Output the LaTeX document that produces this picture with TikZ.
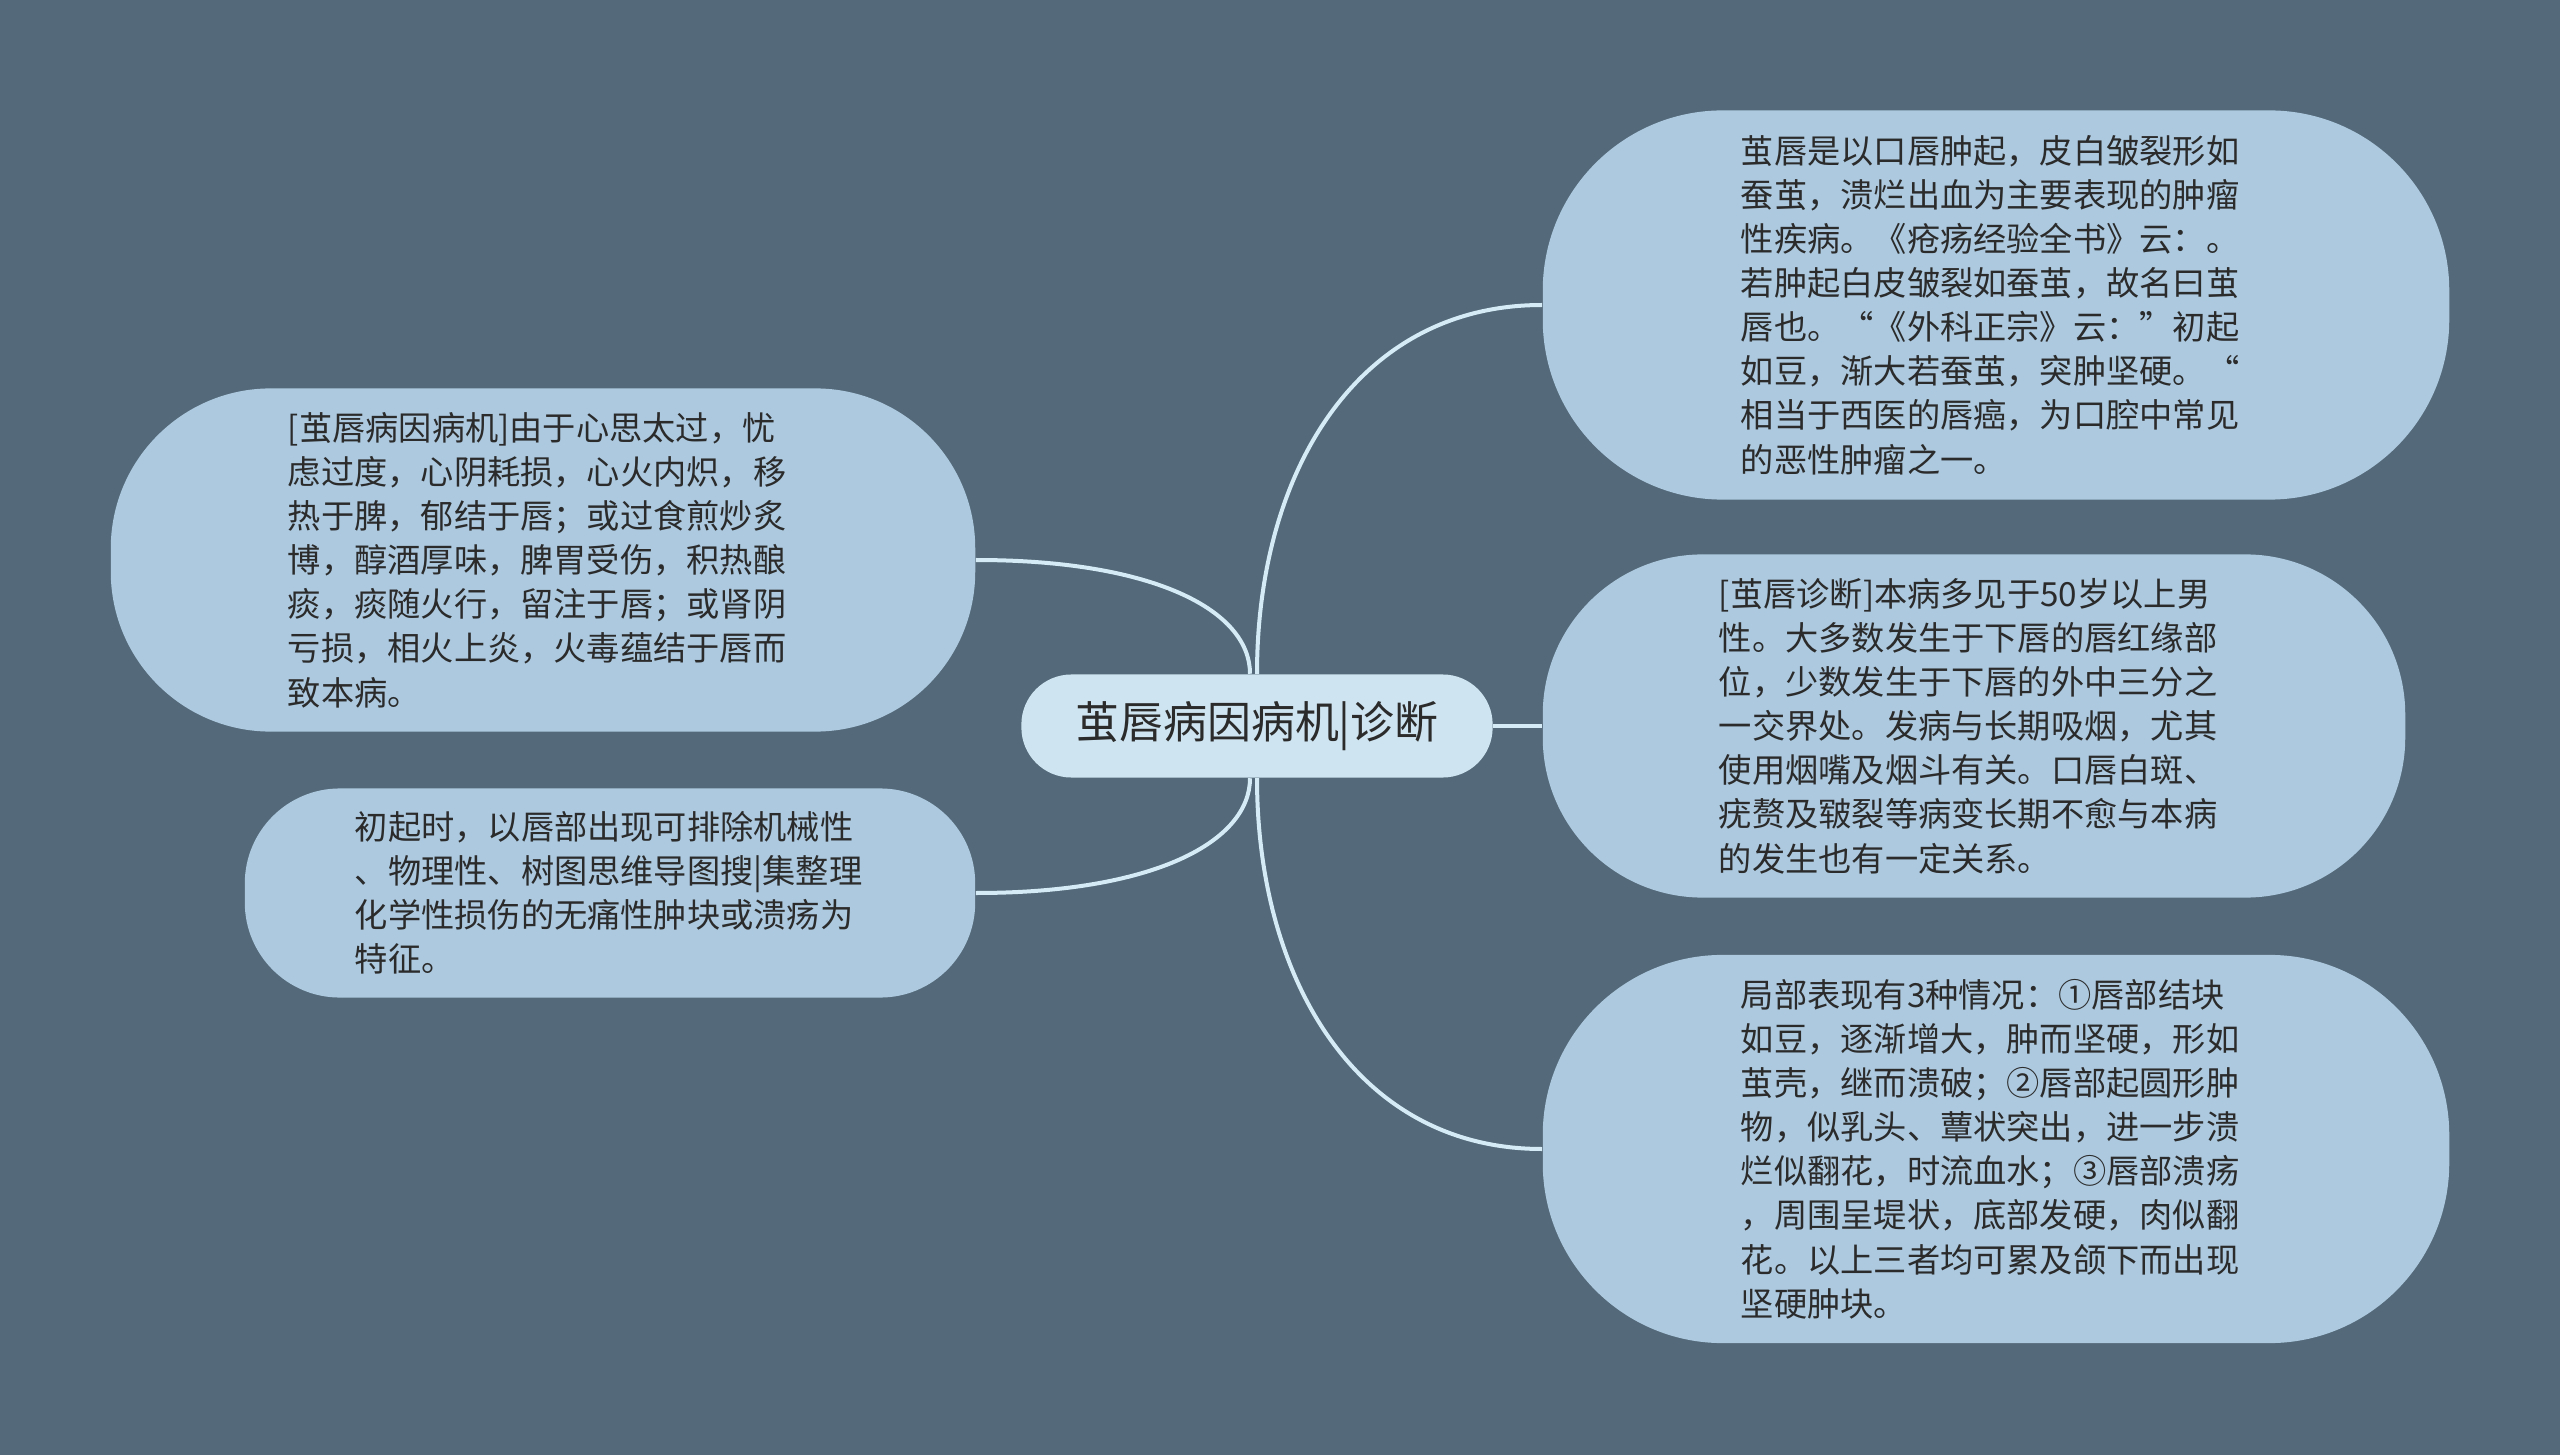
\documentclass[tikz,border=0pt]{standalone}
\usepackage{fontspec}
\newfontfamily\cjk{Noto Sans CJK SC}
\definecolor{bgcol}{HTML}{546A7A}
\definecolor{leafcol}{HTML}{ACC9DF}
\definecolor{rootcol}{HTML}{CEE4F0}
\definecolor{linkcol}{HTML}{D5EBF6}
\definecolor{inkcol}{HTML}{2B2B2B}
\tikzset{
  leaf/.style={fill=leafcol, text=inkcol, align=left, text width=5.1cm, inner sep=0pt,
    font=\cjk\fontsize{9.45pt}{12.55pt}\selectfont},
  root/.style={fill=rootcol, text=inkcol, inner sep=0pt, minimum width=4.71cm,
    minimum height=1.03cm, rounded corners=0.5cm, font=\cjk\fontsize{12.5pt}{15pt}\selectfont},
  link/.style={draw=linkcol, line width=0.04cm},
}
\begin{document}
\begin{tikzpicture}[x=0.01cm,y=-0.01cm]
		\fill [bgcol] (0,0) rectangle (2560,1455);
		\useasboundingbox (0,0) rectangle (2560,1455);
		% centre
		\node [root] (root) at (1257,726) {茧唇病因病机|诊断};
		% left side
		\node [leaf, minimum width=8.64cm, minimum height=3.43cm, rounded corners=1.6cm] (cause) at (543,560)
			{[茧唇病因病机]由于心思太过，忧\\虑过度，心阴耗损，心火内炽，移\\热于脾，郁结于唇；或过食煎炒炙\\博，醇酒厚味，脾胃受伤，积热酿\\痰，痰随火行，留注于唇；或肾阴\\亏损，相火上炎，火毒蕴结于唇而\\致本病。};
		\node [leaf, minimum width=7.30cm, minimum height=2.09cm, rounded corners=0.95cm] (onset) at (610,893)
			{初起时，以唇部出现可排除机械性\\、物理性、树图思维导图搜|集整理\\化学性损伤的无痛性肿块或溃疡为\\特征。};
		% right side
		\node [leaf, minimum width=9.06cm, minimum height=3.89cm, rounded corners=1.8cm] (lesion) at (1996,305)
			{茧唇是以口唇肿起，皮白皱裂形如\\蚕茧，溃烂出血为主要表现的肿瘤\\性疾病。《疮疡经验全书》云：。\\若肿起白皮皱裂如蚕茧，故名曰茧\\唇也。“《外科正宗》云：”初起\\如豆，渐大若蚕茧，突肿坚硬。“\\相当于西医的唇癌，为口腔中常见\\的恶性肿瘤之一。};
		\node [leaf, minimum width=8.62cm, minimum height=3.43cm, rounded corners=1.6cm] (diag) at (1974,726)
			{[茧唇诊断]本病多见于50岁以上男\\性。大多数发生于下唇的唇红缘部\\位，少数发生于下唇的外中三分之\\一交界处。发病与长期吸烟，尤其\\使用烟嘴及烟斗有关。口唇白斑、\\疣赘及皲裂等病变长期不愈与本病\\的发生也有一定关系。};
		\node [leaf, minimum width=9.06cm, minimum height=3.88cm, rounded corners=1.8cm] (local) at (1996,1149)
			{局部表现有3种情况：①唇部结块\\如豆，逐渐增大，肿而坚硬，形如\\茧壳，继而溃破；②唇部起圆形肿\\物，似乳头、蕈状突出，进一步溃\\烂似翻花，时流血水；③唇部溃疡\\，周围呈堤状，底部发硬，肉似翻\\花。以上三者均可累及颌下而出现\\坚硬肿块。};
		% connectors
		\draw [link] ([xshift=-0.07cm]root.north) .. controls +(0,-63) and +(179,0) .. (cause.east);
		\draw [link] ([xshift=-0.07cm]root.south) .. controls +(0,63) and +(179,0) .. (onset.east);
		\draw [link] (root.north) .. controls +(0,-200) and +(-186,0) .. (lesion.west);
		\draw [link] (root.east) -- (diag.west);
		\draw [link] (root.south) .. controls +(0,200) and +(-186,0) .. (local.west);
	\end{tikzpicture}
\end{document}
